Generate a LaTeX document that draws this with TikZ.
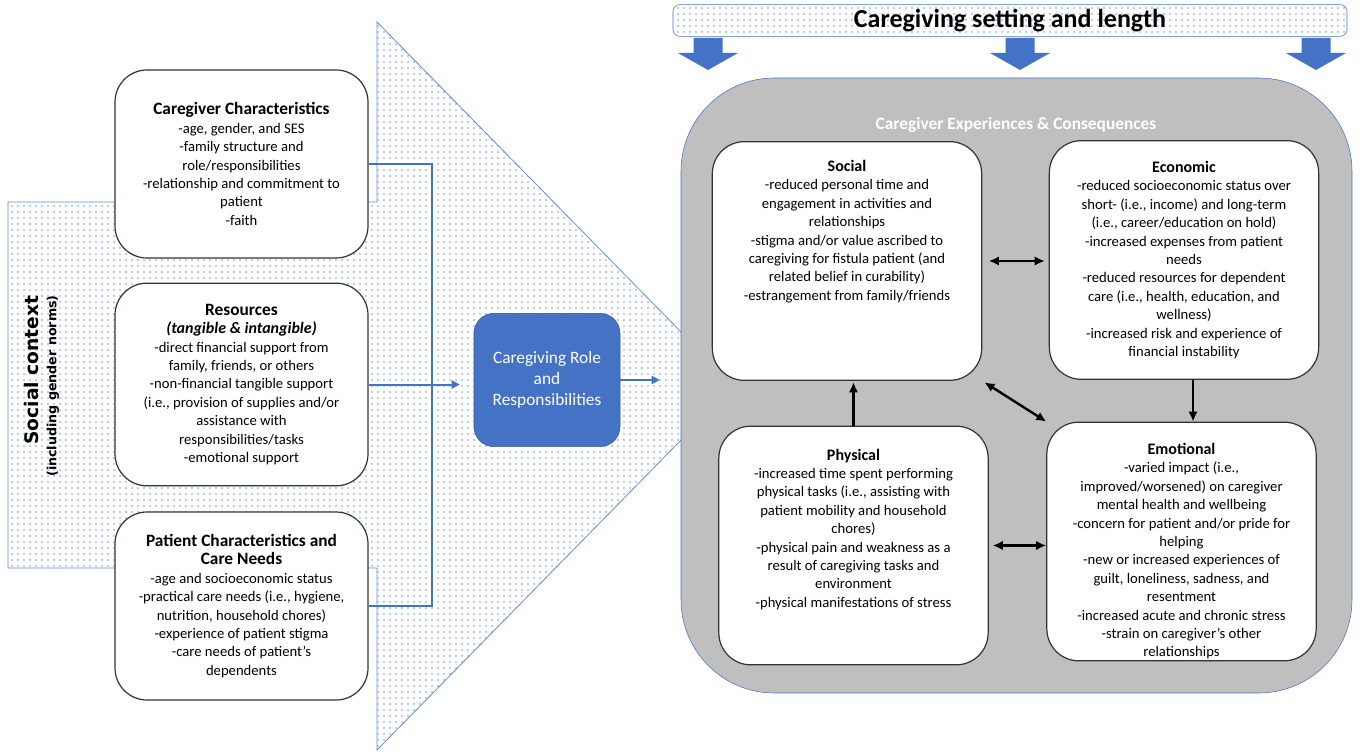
\documentclass[tikz,border=0pt]{standalone}
\usepackage{fontspec}
\setmainfont{Carlito}
\newfontfamily\ctxfont{DejaVu Sans}
\usetikzlibrary{arrows.meta,patterns.meta}

\definecolor{roleblue}{RGB}{68,114,196}
\definecolor{edgeblue}{RGB}{100,140,210}
\definecolor{dotblue}{RGB}{120,155,220}
\definecolor{panelgray}{RGB}{191,191,191}

\newcommand\lift[1]{\rule[-#1]{0pt}{#1}}
\newcommand\drop[1]{\rule{0pt}{#1}}
\newcommand\boxhead[1]{{\bfseries\fontsize{13}{15}\selectfont #1}}

\tikzset{
   speckle/.style={pattern={Dots[distance=4.5pt,radius=0.6pt]},pattern color=dotblue},
   factor/.style={draw=black!80,line width=0.9pt,fill=white,rounded corners=24pt,align=center,
      minimum width=189.75pt,font=\fontsize{11}{13.8}\selectfont},
   effect/.style={factor,minimum width=202pt,minimum height=179pt},
   link/.style={draw=roleblue,line width=1.5pt},
   linkarrow/.style={link,-{Triangle[length=6pt,width=6pt]}},
   twoway/.style={line width=1.8pt,{Latex[length=7.5pt,width=7pt]}-{Latex[length=7.5pt,width=7pt]}},
   oneway/.style={line width=1.8pt,-{Latex[length=7.5pt,width=7pt]}},
}

\begin{document}
\begin{tikzpicture}[x=0.75pt,y=-0.75pt]
   \useasboundingbox (0,0) rectangle (1360,752);
   \fill[white] (0,0) rectangle (1360,752);

   \draw[speckle,draw=edgeblue,line width=0.6pt] (8,202) -- (377,202) -- (377,22) -- (734,386)
      -- (377,750) -- (377,568) -- (8,568) -- cycle;
   \node (ctx) [rotate=90,font=\ctxfont\bfseries\fontsize{14}{16}\selectfont] at (32,370) {Social context};
   \node (ctxsub) [rotate=90,font=\ctxfont\bfseries\fontsize{9.5}{11}\selectfont] at (53,386)
      {(including gender norms)};

   \node (cg) [factor,minimum height=141pt] at (241.5,164)
      {\boxhead{Caregiver Characteristics}\\-age, gender, and SES\\-family structure and\\role/responsibilities\\
       -relationship and commitment to\\patient\\-faith};
   \node (res) [factor,minimum height=152pt] at (241.5,384.5)
      {\boxhead{Resources}\\{\bfseries\itshape\fontsize{12}{14}\selectfont (tangible \& intangible)}\\
       -direct financial support from\\family, friends, or others\\-non-financial tangible support\\
       (i.e., provision of supplies and/or\\assistance with\\responsibilities/tasks\\-emotional support};
   \node (pt) [factor,minimum height=141pt] at (241.5,606)
      {\boxhead{Patient Characteristics and}\\\boxhead{Care Needs}\\-age and socioeconomic status\\
       -practical care needs (i.e., hygiene,\\nutrition, household chores)\\-experience of patient stigma\\
       -care needs of patient’s\\dependents};

   \node (role) [fill=roleblue,draw=roleblue!80!black,rounded corners=15pt,minimum width=109.5pt,
      minimum height=100pt,text=white,align=center,font=\fontsize{13}{16}\selectfont] at (547,380)
      {Caregiving Role\\and\\Responsibilities};

   \coordinate (jn) at (432,384.5);
   \draw[link] (cg.east) -| (jn) |- (pt.east);
   \draw[linkarrow,shorten >=10.5pt] (res.east) -- (res.east -| role.west);

   \node (panel) [draw=roleblue,fill=panelgray,rounded corners=70pt,minimum width=503.25pt,
      minimum height=461.25pt] at (1016.5,385.5) {};
   \draw[linkarrow,shorten >=15.75pt] (role.east) -- (role.east -| panel.west);
   \node (ptitle) [text=white,font=\bfseries\fontsize{13}{15}\selectfont] at (1016,125)
      {Caregiver Experiences \& Consequences};

   \node (soc) [effect] at (847,261)
      {{\bfseries\fontsize{12}{14}\selectfont Social}\\-reduced personal time and\\engagement in activities and\\
       relationships\\-stigma and/or value ascribed to\\caregiving for fistula patient (and\\
       related belief in curability)\\-estrangement from family/friends\lift{46pt}};
   \node (eco) [effect] at (1184,260)
      {{\bfseries\fontsize{12}{14}\selectfont Economic}\\-reduced socioeconomic status over\\
       short- (i.e., income) and long-term\\(i.e., career/education on hold)\\-increased expenses from patient\\
       needs\\-reduced resources for dependent\\care (i.e., health, education, and\\wellness)\\
       -increased risk and experience of\\financial instability};
   \node (phy) [effect] at (853.5,545.5)
      {{\bfseries\fontsize{12}{14}\selectfont Physical}\\-increased time spent performing\\
       physical tasks (i.e., assisting with\\patient mobility and household\\chores)\\
       -physical pain and weakness as a\\result of caregiving tasks and\\environment\\
       -physical manifestations of stress\lift{26pt}};
   \node (emo) [effect,inner ysep=0pt] at (1181.5,541.5)
      {\drop{23pt}{\bfseries\fontsize{12}{14}\selectfont Emotional}\\-varied impact (i.e.,\\improved/worsened) on caregiver\\
       mental health and wellbeing\\-concern for patient and/or pride for\\helping\\
       -new or increased experiences of\\guilt, loneliness, sadness, and\\resentment\\
       -increased acute and chronic stress\\-strain on caregiver’s other\\relationships};

   \draw[twoway,shorten <=5pt,shorten >=3pt] (soc.east) -- (soc.east -| eco.west);
   \draw[oneway,shorten >=1pt] (phy.north) -- (phy.north |- soc.south);
   \draw[oneway] ([xshift=6.75pt]eco.south) -- ([xshift=6.75pt]eco.south |- emo.north);
   \draw[twoway,shorten <=2pt] (soc.south east) -- (emo.north west);
   \draw[twoway,shorten <=3pt] (phy.east) -- (phy.east -| emo.west);

   \node (setting) [speckle,draw=roleblue,rounded corners=5pt,minimum width=505.5pt,minimum height=23.25pt,
      font=\bfseries\fontsize{19.5}{21}\selectfont] at (1010,20.5) {Caregiving setting and length};
   \foreach \ax in {708,1020,1316}
      \fill[roleblue] (\ax-14.5,38) -- (\ax+14.5,38) -- (\ax+14.5,53) -- (\ax+30,53) -- (\ax,70)
         -- (\ax-30,53) -- (\ax-14.5,53) -- cycle;
\end{tikzpicture}
\end{document}
